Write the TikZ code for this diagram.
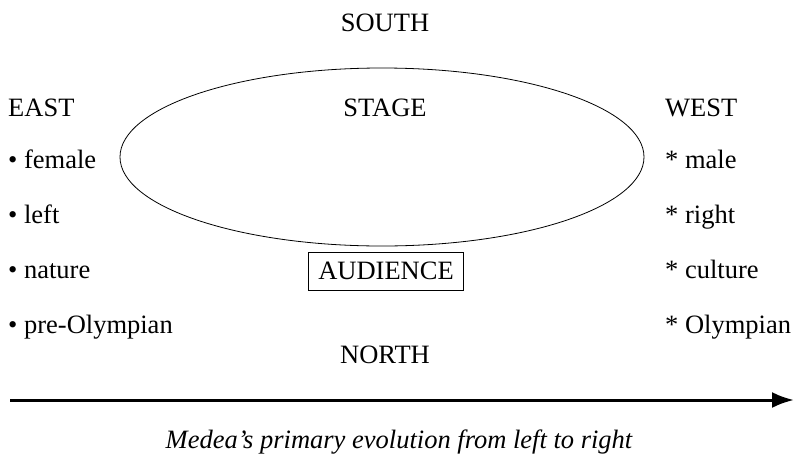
\documentclass[tikz,border=0pt]{standalone}
\usepackage{fontspec}
\setmainfont{Liberation Serif}
\usetikzlibrary{shapes.geometric,arrows.meta}

\begin{document}
\begin{tikzpicture}[x = 1pt, y = -1pt,
    every node/.style = {font = \fontsize{26.5}{31}\selectfont, inner sep = 0pt},
    lbl/.style = {anchor = base},
    item/.style = {anchor = base west}]
    \useasboundingbox (0,0) rectangle (794,458);
    \node (stage) at (382,157) [draw, ellipse, line width = .8pt,
                                minimum width = 524pt, minimum height = 178pt] {};
    \node (south)    at (385, 31) [lbl] {SOUTH};
    \node (stagelbl) at (385,116) [lbl] {STAGE};
    \node (east)     at (  8,116) [item] {EAST};
    \node (west)     at (665,116) [item] {WEST};
    \node (female)   at (  8,168) [item] {\textbullet{} female};
    \node (left)     at (  8,223) [item] {\textbullet{} left};
    \node (nature)   at (  8,278) [item] {\textbullet{} nature};
    \node (preolymp) at (  8,333) [item] {\textbullet{} pre-Olympian};
    \node (male)     at (665,168) [item] {* male};
    \node (right)    at (665,223) [item] {* right};
    \node (culture)  at (665,278) [item] {* culture};
    \node (olymp)    at (665,333) [item] {* Olympian};
    \node (audience) at (386,271) [draw, line width = .8pt, inner xsep = 10pt,
                                   minimum height = 38pt] {AUDIENCE};
    \node (north)    at (385,363) [lbl] {NORTH};
    \coordinate (from) at ( 10,400);
    \coordinate (to)   at (794,400);
    \draw [line width = 3pt, -{Latex[length = 22pt, width = 16pt]}] (from)--(to);
    \node (caption)  at (399,448) [lbl] {\itshape Medea's primary evolution from left to right};
  \end{tikzpicture}
\end{document}
